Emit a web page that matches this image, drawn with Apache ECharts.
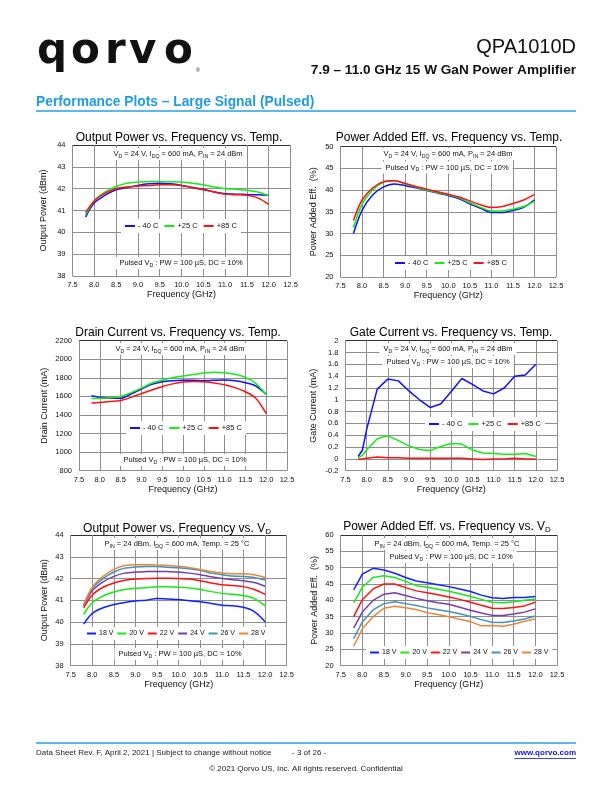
<!DOCTYPE html>
<html><head><meta charset="utf-8">
<script src="https://cdn.jsdelivr.net/npm/echarts@6/dist/echarts.min.js"></script>
<style>html,body{margin:0;padding:0;background:#fff}#c{width:612px;height:792px}</style>
</head><body><div id="c"></div>
<script>
// ---------------- DATA ----------------
const freq = [7.8,8.0,8.25,8.5,8.75,9.0,9.25,9.5,9.75,10.0,10.25,10.5,10.75,11.0,11.25,11.5,11.75,12.0];
const freqGate = [7.8,7.9,8.0,8.25,8.5,8.75,9.0,9.25,9.5,9.75,10.0,10.25,10.5,10.75,11.0,11.25,11.5,11.75,12.0];
const xTicks = {min:7.5, max:12.5, interval:0.5};
const tempNames = ['- 40 C','+25 C','+85 C'];
const vdNames = ['18 V','20 V','22 V','24 V','26 V','28 V'];

// Output power vs temp (dBm)
const poutM40 = [40.7,41.35,41.7,41.95,42.05,42.15,42.22,42.25,42.22,42.15,42.05,41.97,41.85,41.77,41.75,41.73,41.72,41.7];
const poutP25 = [40.8,41.45,41.85,42.1,42.25,42.3,42.33,42.33,42.32,42.3,42.25,42.18,42.08,42.0,41.97,41.93,41.85,41.68];
const poutP85 = [40.9,41.45,41.8,42.0,42.08,42.12,42.15,42.18,42.18,42.15,42.05,41.95,41.85,41.75,41.72,41.7,41.58,41.28];
// PAE vs temp (%)
const paeM40 = [30.0,35.3,38.9,40.7,41.4,41.0,40.5,39.9,39.3,38.75,38.0,36.8,35.8,34.85,34.8,35.3,36.0,37.75];
const paeP25 = [31.3,36.7,40.0,41.8,42.2,41.4,40.7,40.0,39.4,38.9,38.2,37.1,36.0,35.2,35.2,35.6,36.2,37.4];
const paeP85 = [33.0,37.7,40.5,41.9,42.1,41.5,40.8,40.2,39.6,39.0,38.4,37.5,36.6,36.0,36.2,36.9,37.7,39.0];
// Drain current vs temp (mA)
const idM40 = [1608,1590,1580,1579,1626,1680,1730,1758,1769,1773,1773,1769,1773,1776,1769,1748,1712,1622];
const idP25 = [1577,1579,1585,1600,1640,1690,1745,1775,1800,1820,1835,1852,1860,1855,1838,1805,1740,1618];
const idP85 = [1530,1535,1545,1555,1590,1630,1670,1705,1735,1755,1760,1757,1745,1725,1695,1650,1580,1415];
// Gate current vs temp (mA)
const igM40 = [0.04,0.15,0.5,1.18,1.35,1.32,1.15,1.0,0.87,0.93,1.14,1.36,1.26,1.15,1.10,1.2,1.40,1.42,1.6];
const igP25 = [0.02,0.06,0.15,0.34,0.39,0.31,0.22,0.16,0.14,0.21,0.26,0.25,0.15,0.1,0.09,0.08,0.08,0.09,0.04];
const igP85 = [0.0,0.0,0.01,0.03,0.02,0.02,0.01,0.01,0.01,0.01,0.01,0.01,0.0,-0.01,0.0,0.0,0.01,0.0,0.0];
// Output power vs VD (dBm)
const pv18 = [39.91,40.4,40.66,40.81,40.9,40.97,41.01,41.09,41.06,41.04,40.98,40.94,40.86,40.78,40.75,40.68,40.48,40.02];
const pv20 = [40.35,40.9,41.2,41.38,41.5,41.55,41.58,41.62,41.62,41.6,41.57,41.5,41.4,41.32,41.28,41.22,41.08,40.75];
const pv22 = [40.65,41.25,41.6,41.8,41.92,41.98,42.0,42.02,42.02,42.0,41.98,41.9,41.8,41.72,41.68,41.63,41.5,41.28];
const pv24 = [40.75,41.45,41.85,42.1,42.25,42.3,42.32,42.33,42.32,42.3,42.25,42.18,42.08,42.0,41.95,41.9,41.82,41.65];
const pv26 = [40.8,41.55,42.0,42.3,42.48,42.53,42.55,42.55,42.52,42.5,42.45,42.38,42.25,42.18,42.12,42.1,42.05,41.93];
const pv28 = [40.8,41.6,42.1,42.42,42.6,42.63,42.63,42.62,42.6,42.56,42.5,42.42,42.32,42.25,42.22,42.22,42.18,42.05];
// PAE vs VD (%)
const ev18 = [43.2,48.0,49.8,49.3,48.3,47.0,45.9,45.4,44.8,44.2,43.5,42.7,41.6,40.8,40.6,40.9,40.9,41.2];
const ev20 = [39.2,44.0,47.0,47.5,47.0,45.8,44.5,44.0,43.4,42.8,42.0,41.2,40.3,39.4,39.3,39.6,40.0,40.4];
const ev22 = [35.0,40.2,43.5,45.0,45.0,43.9,42.9,42.3,41.7,41.0,40.3,39.4,38.5,37.6,37.5,37.8,38.3,39.4];
const ev24 = [31.5,36.4,40.0,41.9,42.3,41.5,40.6,39.9,39.3,38.8,37.9,37.0,36.1,35.4,35.4,35.8,36.4,37.4];
const ev26 = [28.3,33.4,37.1,39.0,39.6,39.0,38.4,37.7,37.1,36.6,35.9,35.1,34.1,33.3,33.2,33.7,34.3,35.2];
const ev28 = [26.0,31.3,35.0,37.6,38.2,37.7,37.2,36.2,35.7,35.0,34.2,33.5,32.2,32.3,32.1,32.7,33.6,34.3];

// ---------------- STYLE ----------------
const FONT = "'Liberation Sans', Arial, Helvetica, sans-serif";
const GRIDC = '#8e8e8e';
const TOPC = '#333333';
const tempColors = ['#1010ff','#10f010','#ff1010'];
const vdColors = ['#1020ff','#10ee10','#ff1010','#7a3aa8','#3f93b8','#e8873a'];

const cond1 = 'V{s|D} = 24 V, I{s|DQ} = 600 mA, P{s|IN} = 24 dBm';
const cond2 = 'P{s|IN} = 24 dBm, I{s|DQ} = 600 mA, Temp. = 25 \u00B0C';
const pulsed = 'Pulsed V{s|D} : PW = 100 \u00B5S, DC = 10%';

const tempLeg = {itemWidth:10, itemGap:6, fontSize:7.5};
const vdLeg = {itemWidth:9, itemGap:4, fontSize:7};

const panels = [
  {grid:{left:72.5,top:145,width:218,height:131}, y:{min:38,max:44,interval:1}, yName:'Output Power (dBm)', yGap:24, xGap:14,
   names:tempNames, colors:tempColors, x:freq, data:[poutM40,poutP25,poutP85], smooth:0.3,
   title:'Output Power vs. Frequency vs. Temp.', tpos:[179,138], ann:[[cond1,178,154],[pulsed,181,263]], leg:{left:121,top:219}, ls:tempLeg},
  {grid:{left:340.5,top:146.5,width:215.5,height:130.5}, y:{min:20,max:50,interval:5}, yName:'Power Added Eff.  (%)', yGap:22, xGap:14,
   names:tempNames, colors:tempColors, x:freq, data:[paeM40,paeP25,paeP85], smooth:0.3,
   title:'Power Added Eff. vs. Frequency vs. Temp.', tpos:[449,138], ann:[[cond1,448,154],[pulsed,447,167.5]], leg:{left:391,top:256}, ls:tempLeg},
  {grid:{left:79,top:340.7,width:208,height:130}, y:{min:800,max:2200,interval:200}, yName:'Drain Current (mA)', yGap:30, xGap:12,
   names:tempNames, colors:tempColors, x:freq, data:[idM40,idP25,idP85], smooth:0.3,
   title:'Drain Current vs. Frequency vs. Temp.', tpos:[178,333], ann:[[cond1,180,349],[pulsed,185,460]], leg:{left:126,top:421}, ls:tempLeg},
  {grid:{left:345.5,top:340.7,width:211.5,height:130}, y:{min:-0.2,max:2,interval:0.2}, yName:'Gate Current (mA)', yGap:27, xGap:12,
   names:tempNames, colors:tempColors, x:freqGate, data:[igM40,igP25,igP85], smooth:false,
   title:'Gate Current vs. Frequency vs. Temp.', tpos:[451,333], ann:[[cond1,448,349],[pulsed,448,362]], leg:{left:425,top:417}, ls:tempLeg},
  {grid:{left:70.7,top:535,width:216,height:130.7}, y:{min:38,max:44,interval:1}, yName:'Output Power (dBm)', yGap:22, xGap:12,
   names:vdNames, colors:vdColors, x:freq, data:[pv18,pv20,pv22,pv24,pv26,pv28], smooth:0.3,
   title:'Output Power vs. Frequency vs. V{ts|D}', tpos:[177,529], ann:[[cond2,177,544],[pulsed,180,654]], leg:{left:83,top:627}, ls:vdLeg},
  {grid:{left:340.7,top:535,width:216.3,height:130.7}, y:{min:20,max:60,interval:5}, yName:'Power Added Eff.  (%)', yGap:22, xGap:12,
   names:vdNames, colors:vdColors, x:freq, data:[ev18,ev20,ev22,ev24,ev26,ev28], smooth:false,
   title:'Power Added Eff. vs. Frequency vs. V{ts|D}', tpos:[447,527], ann:[[cond2,447,544],[pulsed,451,557]], leg:{left:366,top:646}, ls:vdLeg}
];

const grids=[], xAxes=[], yAxes=[], series=[], legends=[], graphics=[];
panels.forEach((p,i)=>{
  grids.push(Object.assign({containLabel:false}, p.grid));
  xAxes.push({type:'value', gridIndex:i, min:xTicks.min, max:xTicks.max, interval:xTicks.interval,
    name:'Frequency (GHz)', nameLocation:'middle', nameGap:p.xGap,
    nameTextStyle:{fontFamily:FONT, fontSize:9, color:'#111'},
    axisLine:{show:false}, axisTick:{show:false},
    axisLabel:{fontFamily:FONT, fontSize:7.5, color:'#111', margin:5, formatter:v=>v.toFixed(1)},
    splitLine:{show:true, lineStyle:{color:GRIDC, width:1}}});
  const nLines = Math.round((p.y.max-p.y.min)/p.y.interval)+1;
  const cols = []; for(let k=0;k<nLines;k++) cols.push(k===nLines-1?TOPC:GRIDC);
  yAxes.push({type:'value', gridIndex:i, min:p.y.min, max:p.y.max, interval:p.y.interval,
    name:p.yName, nameLocation:'middle', nameGap:p.yGap, nameRotate:90,
    nameTextStyle:{fontFamily:FONT, fontSize:9, color:'#111'},
    axisLine:{show:false}, axisTick:{show:false},
    axisLabel:{fontFamily:FONT, fontSize:7.5, color:'#111', margin:7, formatter:v=>String(+v.toFixed(1))},
    splitLine:{show:true, lineStyle:{color:cols, width:1}}});
  p.data.forEach((arr,j)=>{
    series.push({type:'line', name:p.names[j], xAxisIndex:i, yAxisIndex:i, symbol:'none', smooth:p.smooth,
      color:p.colors[j], lineStyle:{width:1.5, color:p.colors[j]}, itemStyle:{color:p.colors[j]},
      data:p.x.map((f,k)=>[f,arr[k]]), z:3, animation:false});
  });
  legends.push({show:true, left:p.leg.left, top:p.leg.top, orient:'horizontal', data:p.names.slice(),
    backgroundColor:'#fff', padding:[3,4], itemGap:p.ls.itemGap, itemWidth:p.ls.itemWidth, itemHeight:2, icon:'rect', selectedMode:false,
    textStyle:{fontFamily:FONT, fontSize:p.ls.fontSize, color:'#111', padding:[0,0,0,-2]}});
  graphics.push({type:'text', x:p.tpos[0], y:p.tpos[1], z:50,
    style:{text:p.title, fontFamily:FONT, fontSize:12, fill:'#000', align:'center', verticalAlign:'middle',
      lineHeight:14, rich:{ts:{fontFamily:FONT, fontSize:8, fill:'#000', verticalAlign:'bottom', lineHeight:8}}}});
  p.ann.forEach(a=>{
    graphics.push({type:'text', x:a[1], y:a[2], z:50,
      style:{text:a[0], fontFamily:FONT, fontSize:7.5, fill:'#111', align:'center', verticalAlign:'middle', lineHeight:10,
        backgroundColor:'#fff', padding:[1,4],
        rich:{s:{fontFamily:FONT, fontSize:5.2, fill:'#111', verticalAlign:'bottom', lineHeight:5.5}}}});
  });
});

// ---------------- HEADER / FOOTER ----------------
const logoFont = "'DejaVu Sans', sans-serif";
const logoLetters = [['q',37],['o',71],['r',105],['v',129],['o',164]];
logoLetters.forEach(l=>{
  graphics.push({type:'text', x:l[1], y:52, style:{text:l[0], fontFamily:logoFont, fontSize:42, fontWeight:'bold', fill:'#111', align:'left', verticalAlign:'middle'}});
});
graphics.push({type:'text', x:196, y:71, style:{text:'\u00AE', fontFamily:FONT, fontSize:5, fill:'#111', align:'left', verticalAlign:'middle'}});
graphics.push({type:'text', x:576, y:47, style:{text:'QPA1010D', fontFamily:FONT, fontSize:20, fill:'#111', align:'right', verticalAlign:'middle'}});
graphics.push({type:'text', x:576, y:70, style:{text:'7.9 \u2013 11.0 GHz 15 W GaN Power Amplifier', fontFamily:FONT, fontSize:13.6, fontWeight:'bold', fill:'#111', align:'right', verticalAlign:'middle'}});
graphics.push({type:'text', x:36, y:102, style:{text:'Performance Plots \u2013 Large Signal (Pulsed)', fontFamily:FONT, fontSize:13.8, fontWeight:'bold', fill:'#1e9be3', align:'left', verticalAlign:'middle'}});
graphics.push({type:'line', shape:{x1:36,y1:111,x2:576,y2:111}, style:{stroke:'#1fa3e6', lineWidth:1.3}});

graphics.push({type:'line', shape:{x1:36,y1:743,x2:576,y2:743}, style:{stroke:'#1fa3e6', lineWidth:1.3}});
graphics.push({type:'text', x:36, y:753, style:{text:'Data Sheet Rev. F, April 2, 2021 | Subject to change without notice', fontFamily:FONT, fontSize:8, fill:'#222', align:'left', verticalAlign:'middle'}});
graphics.push({type:'text', x:292, y:753, style:{text:'- 3 of 26 -', fontFamily:FONT, fontSize:8, fill:'#222', align:'left', verticalAlign:'middle'}});
const urlText = 'www.qorvo.com';
const cv = document.createElement('canvas').getContext('2d');
cv.font = 'bold 8px ' + FONT;
const urlW = cv.measureText(urlText).width;
graphics.push({type:'text', x:576, y:753, style:{text:urlText, fontFamily:FONT, fontSize:8, fontWeight:'bold', fill:'#1010e0', align:'right', verticalAlign:'middle'}});
graphics.push({type:'line', shape:{x1:576-urlW,y1:758.5,x2:576,y2:758.5}, style:{stroke:'#1010e0', lineWidth:0.8}});
graphics.push({type:'text', x:306, y:769, style:{text:'\u00A9 2021 Qorvo US, Inc. All rights reserved. Confidential', fontFamily:FONT, fontSize:8, fill:'#222', align:'center', verticalAlign:'middle'}});

const chart = echarts.init(document.getElementById('c'), null, {renderer:'canvas'});
chart.setOption({
  animation:false,
  backgroundColor:'#fff',
  textStyle:{fontFamily:FONT},
  grid:grids, xAxis:xAxes, yAxis:yAxes, series:series, legend:legends,
  graphic:{elements:graphics}
});
</script>
</body></html>
